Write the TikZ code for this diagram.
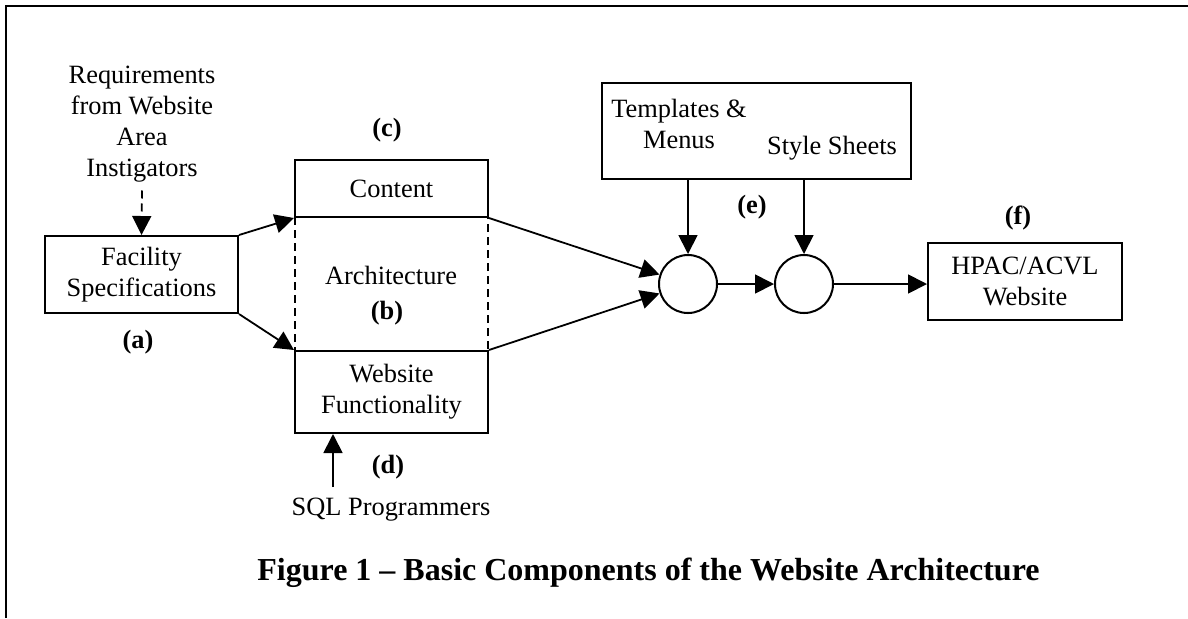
\documentclass[tikz,border=0pt]{standalone}
\usepackage{fontspec}
\setmainfont{Liberation Serif}
\usetikzlibrary{arrows.meta}
\tikzset{
  box/.style={draw, line width=1pt, inner sep=0pt, align=center},
  joint/.style={draw, circle, line width=1pt, minimum size=29pt, inner sep=0pt},
  txt/.style={inner sep=0pt, align=center},
  lbl/.style={inner sep=0pt, font=\fontsize{13.2}{15.5}\selectfont\bfseries},
  link/.style={->, line width=0.9pt},
}
\begin{document}
\begin{tikzpicture}[x=0.5pt, y=-0.5pt, >={Triangle[length=9.5pt,width=9.5pt]},
    font=\fontsize{13.2}{15.5}\selectfont]
    \useasboundingbox (0,0) rectangle (1188,618);
    \draw[line width=1pt] (6,618) -- (6,6) -- (1188,6);
    % left part
    \node[txt, inner ysep=4pt] (req) at (142,124) {Requirements\\from Website\\Area\\Instigators};
    \node[box, minimum width=96.5pt, minimum height=38.5pt] (fac) at (141.5,274.5) {Facility\\Specifications};
    \node[lbl] (la) at (138,342) {(a)};
    % architecture block
    \node[box, dashed, dash pattern=on 4pt off 2.5pt, minimum width=96.5pt, minimum height=67pt] (arch) at (391.5,284) {};
    \node[box, minimum width=96.5pt, minimum height=28.5pt] (cont) at (391.5,188.5) {Content};
    \node[box, minimum width=96.5pt, minimum height=41pt] (func) at (391.5,392) {Website\\Functionality};
    \node[txt] (archtxt) at (391,275) {Architecture};
    \node[lbl] (lb) at (387,313) {(b)};
    \node[lbl] (lc) at (387,130) {(c)};
    \node[lbl] (ld) at (388,467) {(d)};
    \node[txt] (sql) at (391,510) {SQL Programmers};
    \coordinate (sqlfoot) at (333,487);
    % right part
    \node[box, minimum width=154.5pt, minimum height=48pt] (tmpl) at (756.5,130.5) {};
    \node[txt] (tmpltxt) at (679,123.5) {Templates \&\\Menus};
    \node[txt] (styletxt) at (832,148) {Style Sheets};
    \node[lbl] (le) at (752,207) {(e)};
    \node[joint] (c1) at (688,284) {};
    \node[joint] (c2) at (804,284) {};
    \node[lbl] (lf) at (1018,218) {(f)};
    \node[box, minimum width=97pt, minimum height=38.5pt] (web) at (1025,281.5) {HPAC/ACVL\\Website};
    \node[font=\fontsize{16}{19}\selectfont\bfseries, inner sep=0pt] (cap) at (648.5,573)
        {Figure 1 -- Basic Components of the Website Architecture};
    % connectors
    \draw[link, dashed, dash pattern=on 4pt off 2.5pt] (req.south) -- (fac.north);
    \draw[link] (fac.north east) -- (cont.south west);
    \draw[link] (fac.south east) -- (func.north west);
    \draw[link] (sqlfoot) -- (sqlfoot |- func.south);
    \draw[link] (cont.south east) -- (c1);
    \draw[link] (func.north east) -- (c1);
    \draw[link] (c1 |- tmpl.south) -- (c1);
    \draw[link] (c2 |- tmpl.south) -- (c2);
    \draw[link] (c1) -- (c2);
    \draw[link] (c2) -- (c2 -| web.west);
\end{tikzpicture}
\end{document}
